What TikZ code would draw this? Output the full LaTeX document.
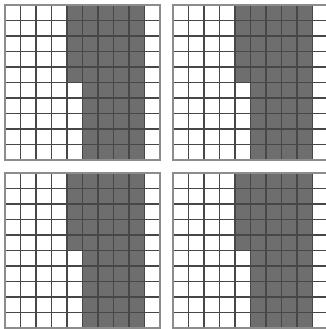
\documentclass[tikz,border=0pt]{standalone}
\tikzset{
    cellfill/.style={fill=black!57},
    gridline/.style={draw=black!72, line width=1.1pt, step=15.5pt},
    gridedge/.style={draw=black!45, line width=1.1pt}
}
\begin{document}
\begin{tikzpicture}[x=1pt, y=-1pt]
    \useasboundingbox (0,0) rectangle (326,329);
    \clip (0,0) rectangle (326,329);
    \foreach \gx/\gy in {5/5, 173/5, 5/173, 173/173}{
        \begin{scope}[shift={(\gx,\gy)}, x=15.5pt, y=-15.5pt]
            % shaded cells
            \fill[cellfill] (4,0) rectangle (9,5);
            \fill[cellfill] (5,5) rectangle (9,10);
            % grid lines
            \draw[gridline] (0,0) grid (10,10);
            \draw[gridedge] (0,0) rectangle (10,10);
        \end{scope}
    }
\end{tikzpicture}
\end{document}
